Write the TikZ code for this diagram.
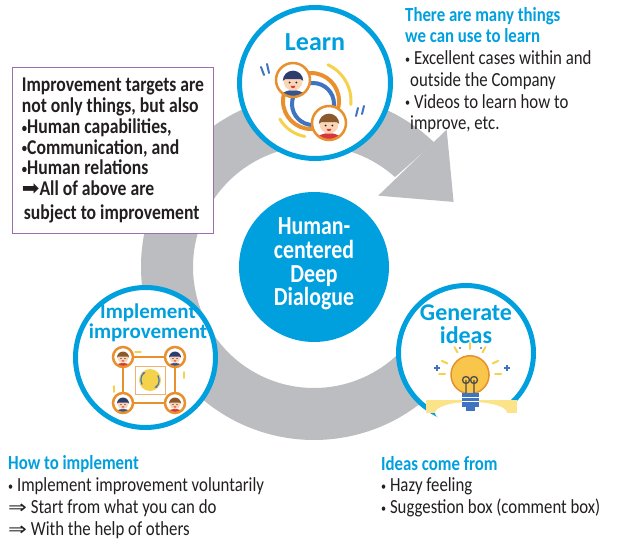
\documentclass[tikz,border=0pt]{standalone}
\usepackage{fontspec}
\setmainfont{Carlito}[FakeStretch=0.84]
\newfontfamily\headfont{Carlito}
\newfontfamily\arrowglyphs{DejaVu Sans}
\usepackage{xcolor}
\usepackage{graphicx}
\definecolor{DialogueBlue}{HTML}{00A0DF}
\definecolor{RingGrey}{HTML}{BBBDC0}
\definecolor{NoteViolet}{HTML}{9A70AC}
\definecolor{TextDark}{HTML}{231F20}
\definecolor{AvatarOrange}{HTML}{E8902E}
\definecolor{SkinTone}{HTML}{FBD6B6}
\definecolor{HairNavy}{HTML}{2C3D6E}
\definecolor{HairBrown}{HTML}{8A5A2E}
\definecolor{ShirtNavy}{HTML}{34558F}
\definecolor{ShirtRed}{HTML}{D8363C}
\definecolor{RingBlue}{HTML}{3F74C0}
\definecolor{SparkYellow}{HTML}{F5D24C}
\definecolor{BulbYellow}{HTML}{F8C64A}
\definecolor{BulbGlow}{HTML}{FBE38A}
\usetikzlibrary{calc,arrows.meta}

\newcommand{\headline}[1]{{\color{DialogueBlue}\bfseries #1}}
\newcommand{\dotmark}{\raisebox{0.12ex}{\scalebox{0.6}{•}}}
\newcommand{\thenmark}{\scalebox{1.25}[1]{\arrowglyphs\mdseries\fontsize{18}{18}\selectfont ⇒}}

% small round portrait, drawn in a unit circle
\tikzset{
  pics/avatar/.style 2 args={code={
    \begin{scope}
      \clip (0,0) circle[radius=1];
      \fill[white] (0,0) circle[radius=1];
      \fill[#2] (0,1.1) ellipse[x radius=0.85, y radius=0.5];
      \fill[SkinTone] (0,0.08) circle[radius=0.55];
      \fill[#1] (-0.6,0.05) arc[start angle=180, end angle=360, radius=0.6]
        -- (0.45,-0.05) -- (-0.45,-0.05) -- cycle;
      \fill[TextDark] (-0.2,0.15) circle[radius=0.06] (0.2,0.15) circle[radius=0.06];
      \fill[ShirtRed] (-0.14,0.34) arc[start angle=180, end angle=0, radius=0.14] -- cycle;
    \end{scope}
    \draw[AvatarOrange, line width=2.5pt] (0,0) circle[radius=1];
  }}
}

\begin{document}
\begin{tikzpicture}[x=1pt, y=-1pt,
  phase/.style      = {circle, draw=DialogueBlue, line width=5pt, fill=white, inner sep=0pt},
  phasetitle/.style = {text=DialogueBlue, align=center, inner sep=0pt},
  hub/.style        = {circle, fill=DialogueBlue, minimum size=150pt, inner sep=0pt},
  hubtext/.style    = {text=white, align=center, inner sep=0pt,
                       font=\bfseries\fontsize{26}{23.7}\selectfont},
  info/.style       = {anchor=north west, align=left, inner sep=0pt, text=TextDark,
                       font=\fontsize{20}{21.7}\selectfont},
  notebox/.style    = {anchor=north west, draw=NoteViolet, line width=1pt, fill=white,
                       align=left, inner xsep=7pt, inner ysep=5pt,
                       minimum width=201pt, minimum height=166pt, text=TextDark,
                       font=\bfseries\fontsize{21}{20.8}\selectfont},
  spark/.style      = {SparkYellow, line width=2pt, line cap=round}
]
  \useasboundingbox (0,0) rectangle (620,540);
  \fill[white] (0,0) rectangle (620,540);

  % Grey cycle arrow round the hub
  \coordinate (ringc) at (314,267);
  \fill[RingGrey] ($(ringc)+(-46:173)$) arc[start angle=-46, end angle=-330, radius=173]
    -- ($(ringc)+(-330:121)$) arc[start angle=-330, end angle=-48, radius=121] -- cycle;
  \fill[RingGrey] ($(ringc)+(-48:96)$) -- ($(ringc)+(-46:191)$) -- ($(ringc)+(-25:154)$) -- cycle;

  % Hub
  \node[hub] (hub) at (ringc) {};
  \node[hubtext] (hubtext) at (314,264) {Human-\\centered\\Deep\\Dialogue};

  % Three phases
  \node[phase, minimum size=151pt] (learn) at (315,83) {};
  \node[phase, minimum size=135pt] (ideas) at (466,353) {};
  \node[phase, minimum size=140pt] (implement) at (145.5,357.5) {};

  \node[phasetitle, font=\headfont\bfseries\fontsize{26}{26}\selectfont] (learntitle) at (315,42) {Learn};
  \node[phasetitle, font=\headfont\bfseries\fontsize{24}{23}\selectfont] (ideastitle) at (466,324) {Generate\\ideas};
  \node[phasetitle, font=\headfont\bfseries\fontsize{21}{20.5}\selectfont] (impltitle) at (148,323) {Implement\\improvement};

  % Learn: two learners on linked rings
  \draw[spark, line width=3pt] (311,101) ++(-65:40) arc[start angle=-65, end angle=5, radius=40];
  \draw[spark, line width=3pt] (311,101) ++(100:36) arc[start angle=100, end angle=150, radius=36];
  \draw[AvatarOrange, line width=4pt] (311,101) circle[radius=28];
  \draw[RingBlue, line width=4pt] (313,104) circle[radius=21];
  \pic[scale=17] at (293,80) {avatar={HairNavy}{ShirtNavy}};
  \pic[scale=17] at (329,123) {avatar={HairBrown}{ShirtRed}};
  \draw[RingBlue, line width=2pt, line cap=round] (261,67) -- (264,75) (267,64) -- (269,73)
    (358,108) -- (356,116) (364,106) -- (362,114);

  % Generate ideas: light bulb
  \fill[BulbGlow] (426,400) rectangle (517,413);
  \fill[white] (471,413) ellipse[x radius=36, y radius=11];
  \foreach \a in {-155,-120,-90,-60,-25,0,180}
    \draw[spark] ($(470,374)+(\a:25)$) -- ($(470,374)+(\a:31)$);
  \draw[RingBlue, line width=1.2pt] (434,368) -- (440,368) (437,365) -- (437,371)
    (504,368) -- (510,368) (507,365) -- (507,371);
  \fill[RingBlue] (460,348) circle[radius=1.2] (481,348) circle[radius=1.2];
  \fill[BulbYellow, draw=AvatarOrange, line width=1.5pt] (462,392)
    arc[start angle=115, end angle=-235, radius=19] -- cycle;
  \draw[TextDark!80, line width=1.3pt] (466,393) -- (466,380) circle[radius=3.5] (474,393) -- (474,380) circle[radius=3.5];
  \fill[RingBlue] (462,393) rectangle (479,407);
  \draw[white, line width=1pt] (462,397) -- (479,397) (462,401) -- (479,401);
  \fill[RingBlue] (466,407) rectangle (475,411);

  % Implement improvement: four people round a shared goal
  \draw[AvatarOrange, line width=2.5pt] (123,357) rectangle (175,403);
  \draw[AvatarOrange!70, line width=1pt] (135,366) rectangle (165,394);
  \draw[spark, line width=1.5pt] (135,352) -- (141,352) (184,372) -- (184,378) (114,386) -- (114,392);
  \fill[SparkYellow] (150,380) circle[radius=11];
  \draw[RingBlue, line width=1.2pt, -{Stealth[length=3pt]}] (150,380) ++(150:9) arc[start angle=150, end angle=240, radius=9];
  \draw[RingBlue, line width=1.2pt, -{Stealth[length=3pt]}] (150,380) ++(-30:9) arc[start angle=-30, end angle=60, radius=9];
  \pic[scale=10] at (123,357) {avatar={HairBrown}{ShirtRed}};
  \pic[scale=10] at (175,357) {avatar={HairNavy}{ShirtNavy}};
  \pic[scale=10] at (123,403) {avatar={HairNavy}{ShirtNavy}};
  \pic[scale=10] at (175,403) {avatar={HairBrown}{ShirtRed}};

  % Note box on the left
  \node[notebox] (targets) at (12,67) {Improvement targets are\\
    not only things, but also\\
    \dotmark Human capabilities,\\
    \dotmark Communication, and\\
    \dotmark Human relations\\
    {\arrowglyphs\mdseries ➡}All of above are\\[3pt]
    \hspace{2pt}subject to improvement};

  % Notes beside each phase
  \node[info] (learnnotes) at (405,7) {\headline{There are many things}\\
    \headline{we can use to learn}\\
    \dotmark\ Excellent cases within and\\
    \hspace{5pt}outside the Company\\
    \dotmark\ Videos to learn how to\\
    \hspace{5pt}improve, etc.};
  \node[info, font=\fontsize{20}{22}\selectfont] (implnotes) at (8,455) {\headline{How to implement}\\
    \dotmark\ Implement improvement voluntarily\\
    \thenmark\ Start from what you can do\\
    \thenmark\ With the help of others};
  \node[info] (ideanotes) at (381,456) {\headline{Ideas come from}\\
    \dotmark\ Hazy feeling\\
    \dotmark\ Suggestion box (comment box)};
\end{tikzpicture}
\end{document}
